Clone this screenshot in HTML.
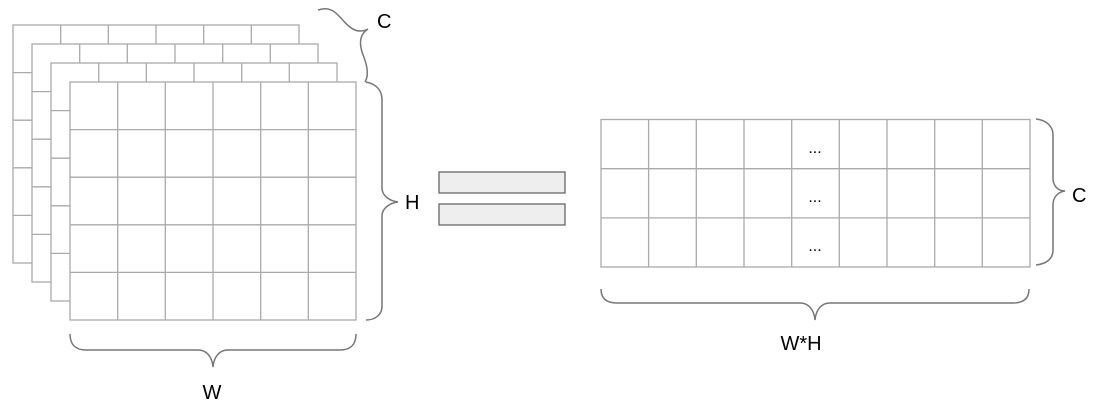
<!DOCTYPE html>
<html><head><meta charset="utf-8"><style>
html,body{margin:0;padding:0;background:#fff;}
svg{display:block;}
text{font-family:"Liberation Sans",sans-serif;fill:#000;}
</style></head><body>
<svg width="1098" height="407" viewBox="0 0 1098 407" xmlns="http://www.w3.org/2000/svg">
<defs>
<g id="grid">
<rect x="0" y="0" width="286" height="238" fill="#fff" stroke="#aaa" stroke-width="1.3"/>
<path d="M47.7,0V238M95.3,0V238M143,0V238M190.7,0V238M238.3,0V238M0,47.6H286M0,95.2H286M0,142.8H286M0,190.4H286" stroke="#aaa" stroke-width="1.3" fill="none"/>
</g>
</defs>
<use href="#grid" x="13" y="25"/>
<use href="#grid" x="32" y="44"/>
<use href="#grid" x="51" y="63"/>
<use href="#grid" x="70" y="82"/>

<g fill="none" stroke="#777" stroke-width="1.5">
<path d="M318,10 C335,4 340,20 350,27 C356,32 362,32 368,29 C360,34 359,42 362,52 C366,62 370,74 365,82"/>
<path d="M366,82 C376,84 382,90 382,100 V188 C382,196 390,201 398,202 C390,203 382,208 382,216 V306 C382,314 376,320 366,320"/>
<path d="M70,334 C70,345 76,350 86,350 H198 C206,350 212,356 213,367 C214,356 220,350 228,350 H340 C350,350 356,345 356,334"/>
<path d="M1036,119 C1046,120 1053,126 1053,135 V178 C1053,186 1058,191 1065,191 C1058,192 1053,197 1053,205 V250 C1053,259 1046,264 1036,265"/>
<path d="M601,289 C601,299 607,303 617,303 H800 C808,303 814,309 815,320 C816,309 822,303 830,303 H1013 C1023,303 1029,299 1029,289"/>
</g>

<rect x="439" y="172" width="126" height="21" fill="#eee" stroke="#666" stroke-width="1.3"/>
<rect x="439" y="204" width="126" height="21" fill="#eee" stroke="#666" stroke-width="1.3"/>

<rect x="601" y="119.5" width="429" height="147.5" fill="#fff" stroke="#aaa" stroke-width="1.3"/>
<path d="M648.6,119.5V267M696.3,119.5V267M744,119.5V267M791.7,119.5V267M839.3,119.5V267M887,119.5V267M934.7,119.5V267M982.3,119.5V267M601,168.7H1030M601,217.9H1030" stroke="#aaa" stroke-width="1.3" fill="none"/>

<text x="815" y="153" font-size="16" text-anchor="middle">...</text>
<text x="815" y="202" font-size="16" text-anchor="middle">...</text>
<text x="815" y="251" font-size="16" text-anchor="middle">...</text>

<text x="377" y="28" font-size="20">C</text>
<text x="405" y="209" font-size="20">H</text>
<text x="212" y="399" font-size="20" text-anchor="middle">W</text>
<text x="1072" y="202" font-size="20">C</text>
<text x="801" y="350" font-size="20" text-anchor="middle">W*H</text>
</svg>
</body></html>
